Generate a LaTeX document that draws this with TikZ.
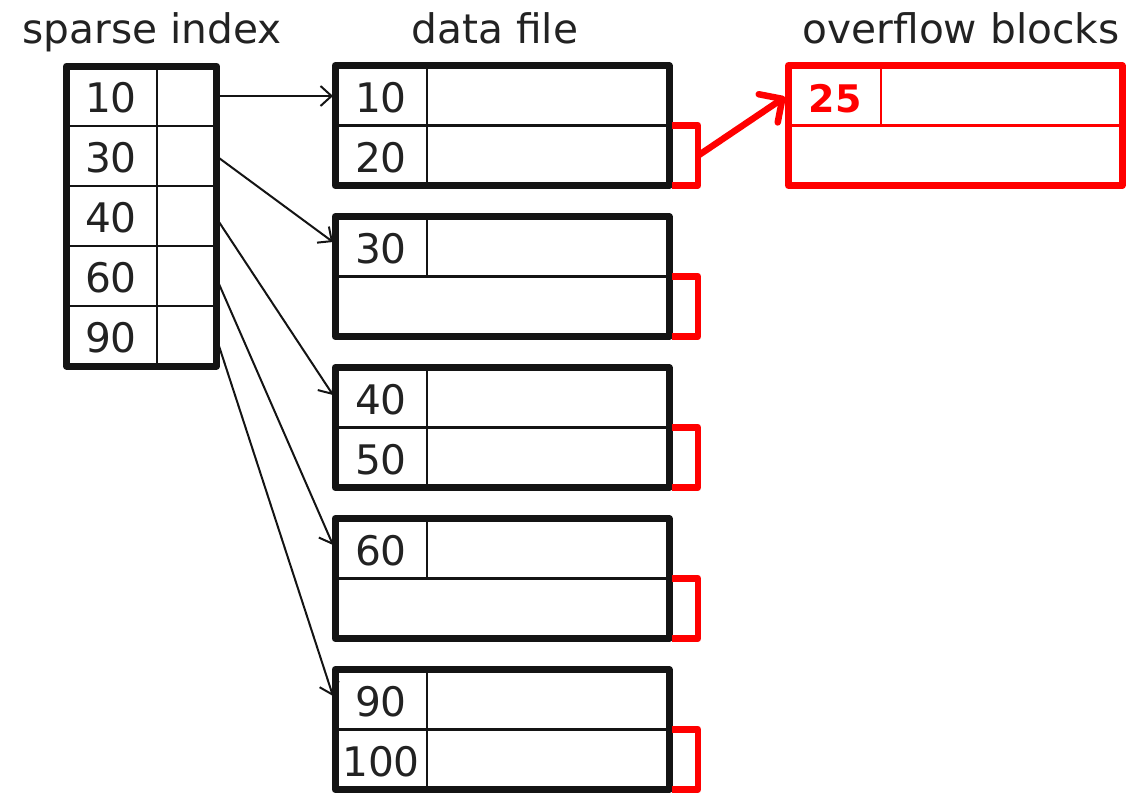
\documentclass[tikz,border=0pt]{standalone}
\usepackage{fontspec}
\setmainfont{DejaVu Sans}
\usetikzlibrary{arrows.meta}
\definecolor{blk}{HTML}{141414}
\definecolor{txt}{HTML}{222222}
\definecolor{ovr}{HTML}{FF0000}
\begin{document}
\begin{tikzpicture}[x=1pt,y=-1pt,
  thickbox/.style={draw=blk,line width=7pt,line join=round,inner sep=0pt,minimum width=334pt,minimum height=120pt},
  idxbox/.style={thickbox,minimum width=150pt,minimum height=300pt},
  ovrbox/.style={thickbox,draw=ovr,minimum width=333.5pt},
  cell/.style={draw=blk,line width=2.2pt},
  ovrcell/.style={draw=ovr,line width=2.2pt},
  key/.style={font=\fontsize{40.7}{48}\selectfont,text=txt,anchor=base,inner sep=0pt},
  ovrkey/.style={font=\fontsize{38}{46}\selectfont\bfseries,text=ovr,anchor=base,inner sep=0pt},
  title/.style={font=\fontsize{40.7}{48}\selectfont,text=txt,anchor=base,inner sep=0pt},
  ptr/.style={draw=blk,line width=2pt,-{Straight Barb[length=11pt,width=20pt,line width=2pt]}},
  bracket/.style={draw=ovr,line width=6.5pt,line join=round},
  ovrptr/.style={draw=ovr,line width=6.5pt,line cap=round,-{Straight Barb[length=17pt,width=34pt,line width=6.5pt,round]}}
]
\useasboundingbox (0,0) rectangle (1145,793);

% titles
\node[title] (tidx) at (152,43) {sparse index};
\node[title] (tdata) at (495,43) {data file};
\node[title] (tovr) at (961,43) {overflow blocks};

% sparse index
\draw[cell] (157,66) -- (157,366);
\foreach \yy in {126,186,246,306} \draw[cell] (66.5,\yy) -- (216.5,\yy);
\node[idxbox] (idx) at (141.5,216) {};
\node[key] (i10) at (111,112) {10};
\node[key] (i30) at (111,172) {30};
\node[key] (i40) at (111,232) {40};
\node[key] (i60) at (111,292) {60};
\node[key] (i90) at (111,352) {90};

% data blocks
% block 1
\draw[cell] (427,65.5) -- (427,185.5);
\draw[cell] (335,125.5) -- (669,125.5);
\node[thickbox] (d1) at (502,125.5) {};
\node[key] (d10) at (381,112) {10};
\node[key] (d20) at (381,172) {20};
% block 2
\draw[cell] (427,216.5) -- (427,276.5);
\draw[cell] (335,276.5) -- (669,276.5);
\node[thickbox] (d2) at (502,276.5) {};
\node[key] (d30) at (381,263) {30};
% block 3
\draw[cell] (427,367.5) -- (427,487.5);
\draw[cell] (335,427.5) -- (669,427.5);
\node[thickbox] (d3) at (502,427.5) {};
\node[key] (d40) at (381,414) {40};
\node[key] (d50) at (381,474) {50};
% block 4
\draw[cell] (427,518.5) -- (427,578.5);
\draw[cell] (335,578.5) -- (669,578.5);
\node[thickbox] (d4) at (502,578.5) {};
\node[key] (d60) at (381,565) {60};
% block 5
\draw[cell] (427,669.5) -- (427,789.5);
\draw[cell] (335,729.5) -- (669,729.5);
\node[thickbox] (d5) at (502,729.5) {};
\node[key] (d90) at (381,716) {90};
\node[key] (d100) at (381,776) {100};

% overflow brackets
\foreach \t in {65.5,216.5,367.5,518.5,669.5}
  \draw[bracket] (672,\t+60) -- (698,\t+60) -- (698,\t+120) -- (672,\t+120);

% overflow block
\draw[ovrcell] (881,65.5) -- (881,125.5);
\draw[ovrcell] (788.5,125.5) -- (1122,125.5);
\node[ovrbox] (ob) at (955.25,125.5) {};
\node[ovrkey] (o25) at (835,112) {25};

% pointers
\coordinate (s1) at (219,96);
\coordinate (s2) at (219,158);
\coordinate (s3) at (219,222);
\coordinate (s4) at (219,284);
\coordinate (s5) at (219,346);
\coordinate (e1) at (333,96);
\coordinate (e2) at (333,242);
\coordinate (e3) at (333,395);
\coordinate (e4) at (333,545);
\coordinate (e5) at (333,696);
\draw[ptr] (s1) -- (e1);
\draw[ptr] (s2) -- (e2);
\draw[ptr] (s3) -- (e3);
\draw[ptr] (s4) -- (e4);
\draw[ptr] (s5) -- (e5);

\coordinate (os) at (699,155);
\coordinate (oe) at (785,97);
\draw[ovrptr] (os) -- (oe);
\end{tikzpicture}
\end{document}
